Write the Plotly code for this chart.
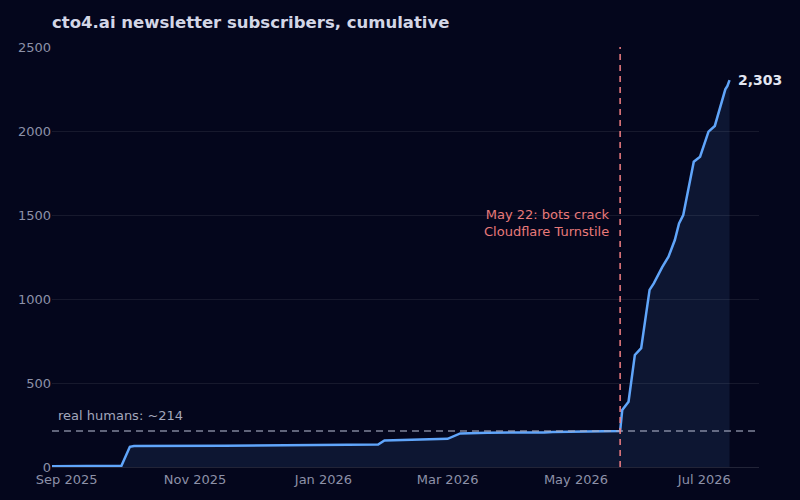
import plotly.graph_objects as go

# ---- data ----
dates = [
    "2025-08-25", "2025-09-10", "2025-09-27", "2025-10-01", "2025-10-03",
    "2025-11-15", "2025-12-15", "2026-01-27", "2026-01-30", "2026-02-20",
    "2026-03-01", "2026-03-07", "2026-03-20", "2026-04-16", "2026-04-20",
    "2026-05-22", "2026-05-23", "2026-05-26", "2026-05-29", "2026-06-01",
    "2026-06-05", "2026-06-07", "2026-06-11", "2026-06-14", "2026-06-17",
    "2026-06-19", "2026-06-21", "2026-06-26", "2026-06-29", "2026-07-03",
    "2026-07-06", "2026-07-11", "2026-07-12", "2026-07-13",
]
subscribers = [
    4, 7, 8, 120, 125,
    127, 131, 134, 158, 163,
    168, 200, 204, 206, 209,
    214, 339, 389, 667, 707,
    1054, 1093, 1190, 1252, 1351,
    1450, 1500, 1817, 1847, 1996,
    2030, 2248, 2268, 2303,
]
real_humans = 214
event_date = "2026-05-22"
event_label = "May 22: bots crack<br>Cloudflare Turnstile"
x_range = ["2025-08-25", "2026-07-27"]
y_range = [0, 2500]
y_ticks = [0, 500, 1000, 1500, 2000, 2500]
x_ticks = ["2025-09-01", "2025-11-01", "2026-01-01", "2026-03-01", "2026-05-01", "2026-07-01"]
x_ticklabels = ["Sep 2025", "Nov 2025", "Jan 2026", "Mar 2026", "May 2026", "Jul 2026"]

BG = "#04061c"
FONT = "DejaVu Sans"

fig = go.Figure()
fig.add_trace(go.Scatter(
    x=dates, y=subscribers, mode="lines",
    line=dict(color="#60a5fa", width=2.5),
    fill="tozeroy", fillcolor="rgba(96,165,250,0.10)",
    hoverinfo="x+y", showlegend=False,
))

# real humans line
fig.add_shape(type="line", xref="paper", yref="y", x0=0, x1=1, y0=real_humans, y1=real_humans,
              line=dict(color="rgba(170,175,195,0.75)", width=1.5, dash="7px,5px"), layer="above")
fig.add_annotation(xref="paper", yref="y", x=0, y=real_humans, text=f"real humans: ~{real_humans}",
                   showarrow=False, xanchor="left", yanchor="bottom", xshift=4, yshift=6,
                   font=dict(family=FONT, size=13, color="#a3a7bb"))

# event line
fig.add_shape(type="line", xref="x", yref="paper", x0=event_date, x1=event_date, y0=0, y1=1,
              line=dict(color="rgba(240,125,130,0.95)", width=1.6, dash="6px,5px"), layer="above")
fig.add_annotation(xref="x", yref="y", x=event_date, y=1450, text=event_label,
                   showarrow=False, xanchor="right", yanchor="middle", align="right", xshift=-8,
                   font=dict(family=FONT, size=13, color="#e87a7a"))

# last value label
fig.add_annotation(xref="x", yref="y", x=dates[-1], y=subscribers[-1], text=f"<b>{subscribers[-1]:,}</b>",
                   showarrow=False, xanchor="left", yanchor="middle", xshift=6,
                   font=dict(family=FONT, size=14, color="#e3e6f2"))

fig.update_layout(
    width=800, height=500,
    paper_bgcolor=BG, plot_bgcolor=BG,
    margin=dict(l=52, r=41, t=47, b=33),
    title=dict(text="<b>cto4.ai newsletter subscribers, cumulative</b>", x=52/800, xanchor="left",
               y=1 - 22/500, yanchor="middle", font=dict(family=FONT, size=16.5, color="#d3d6e6")),
    font=dict(family=FONT, size=13, color="#8d91a8"),
    xaxis=dict(range=x_range, tickvals=x_ticks, ticktext=x_ticklabels, showgrid=False,
               showline=True, linecolor="rgba(255,255,255,0.12)", linewidth=1,
               zeroline=False, ticks="", tickfont=dict(size=13, color="#8d91a8")),
    yaxis=dict(range=y_range, tickvals=y_ticks, showgrid=True, gridcolor="rgba(255,255,255,0.08)",
               gridwidth=1, zeroline=False, showline=False, ticks="",
               tickfont=dict(size=13, color="#8d91a8")),
)

fig.write_html("out.html")
